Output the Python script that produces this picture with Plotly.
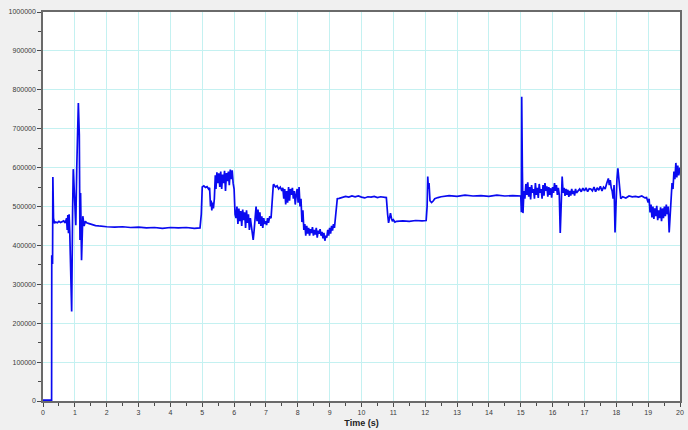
import plotly.graph_objects as go

# ---- data (time in s, signal value) ----
startup_t = [0.0, 0.27, 0.275, 0.29, 0.30, 0.31, 0.33, 0.36, 0.40, 0.45, 0.50, 0.55, 0.60, 0.65,
             0.70, 0.74, 0.76, 0.78, 0.80, 0.82, 0.84, 0.87, 0.90, 0.93, 0.95, 0.98, 1.03,
             1.06, 1.08, 1.11, 1.14, 1.16, 1.18, 1.21, 1.25, 1.29, 1.33, 1.37, 1.45, 1.55,
             1.65, 1.75, 1.85, 2.0]
startup_v = [2000, 2000, 375000, 361000, 352000, 576000, 470000, 457000, 460000, 458000, 462000,
             459000, 461000, 463000, 458000, 470000, 440000, 478000, 431000, 480000, 436000,
             300000, 230000, 491000, 596000, 543000, 452000, 600000, 684000, 766000, 684000,
             414000, 535000, 362000, 475000, 450000, 462000, 458000, 456000, 453000, 451000,
             450000, 449000, 448000]

idle_t = [2.25, 2.5, 2.75, 3.0, 3.25, 3.5, 3.75, 4.0, 4.25, 4.5, 4.75, 4.93]
idle_v = [447000, 448000, 446000, 447000, 445000, 446000, 444000, 446000, 445000, 446000,
          444000, 445000]

step1_t = [4.97, 5.0, 5.05, 5.1, 5.15, 5.2, 5.23, 5.26, 5.28, 5.30, 5.32, 5.35, 5.38, 5.41,
           5.43, 5.46, 5.49, 5.52, 5.55, 5.58, 5.61, 5.64, 5.67, 5.70, 5.73, 5.76, 5.79,
           5.82, 5.85, 5.88, 5.91, 5.94, 5.97, 6.00, 6.03, 6.06, 6.09, 6.12, 6.15, 6.18,
           6.21, 6.24, 6.27, 6.30, 6.33, 6.36, 6.39, 6.42, 6.45, 6.48, 6.51, 6.54, 6.57,
           6.60, 6.63, 6.66, 6.69, 6.72, 6.75, 6.78, 6.81, 6.84, 6.87, 6.90, 6.93, 6.96,
           6.99, 7.02, 7.05, 7.08, 7.12, 7.16, 7.20, 7.23]
step1_v = [480000, 550000, 553000, 549000, 551000, 545000, 548000, 500000, 515000, 490000,
           510000, 495000, 520000, 580000, 545000, 588000, 560000, 585000, 550000, 590000,
           545000, 582000, 560000, 592000, 540000, 586000, 565000, 590000, 555000, 595000,
           570000, 593000, 560000, 545000, 480000, 470000, 500000, 455000, 495000, 462000,
           488000, 450000, 492000, 465000, 485000, 445000, 490000, 458000, 480000, 440000,
           470000, 445000, 430000, 414000, 440000, 470000, 500000, 462000, 492000, 455000,
           485000, 450000, 475000, 445000, 470000, 455000, 462000, 452000, 470000, 458000,
           475000, 470000, 530000, 555000]

step2_t = [7.25, 7.3, 7.35, 7.4, 7.45, 7.5, 7.53, 7.56, 7.59, 7.62, 7.65, 7.68, 7.71, 7.74,
           7.77, 7.80, 7.83, 7.86, 7.89, 7.92, 7.95, 7.98, 8.01, 8.04, 8.07, 8.10, 8.13,
           8.16, 8.19, 8.22, 8.25, 8.28, 8.31, 8.34, 8.37, 8.40, 8.43, 8.46, 8.49, 8.52,
           8.55, 8.58, 8.61, 8.64, 8.67, 8.70, 8.73, 8.76, 8.79, 8.82, 8.85, 8.88, 8.91,
           8.94, 8.97, 9.00, 9.03, 9.06, 9.09, 9.12, 9.15, 9.18, 9.21, 9.24]
step2_v = [556000, 550000, 553000, 545000, 550000, 540000, 548000, 520000, 545000, 505000,
           540000, 510000, 550000, 515000, 545000, 530000, 548000, 520000, 540000, 505000,
           530000, 545000, 510000, 550000, 500000, 520000, 460000, 490000, 440000, 455000,
           425000, 450000, 430000, 445000, 425000, 442000, 432000, 447000, 425000, 440000,
           428000, 445000, 420000, 438000, 430000, 442000, 425000, 435000, 418000, 432000,
           412000, 425000, 420000, 440000, 425000, 445000, 430000, 450000, 438000, 455000,
           445000, 470000, 510000, 520000]

step3_t = [9.3, 9.4, 9.5, 9.6, 9.7, 9.8, 9.9, 10.0, 10.1, 10.2, 10.3, 10.4, 10.5, 10.6,
           10.7, 10.78, 10.82, 10.85, 10.88, 10.91, 10.94, 10.97, 11.0, 11.05, 11.1, 11.3,
           11.5, 11.7, 11.9, 12.03, 12.06, 12.08, 12.10, 12.12, 12.15, 12.2, 12.25, 12.3,
           12.4, 12.5, 12.75, 13.0, 13.25, 13.5, 13.75, 14.0, 14.25, 14.5, 14.75, 15.0]
step3_v = [521000, 523000, 526000, 524000, 527000, 525000, 527000, 524000, 522000, 525000,
           524000, 526000, 523000, 525000, 524000, 523000, 480000, 458000, 470000, 483000,
           470000, 462000, 466000, 460000, 462000, 463000, 462000, 464000, 463000, 464000,
           500000, 577000, 545000, 560000, 515000, 510000, 514000, 520000, 523000, 525000,
           528000, 526000, 529000, 527000, 528000, 526000, 529000, 527000, 528000, 527000]

step4_t = [15.02, 15.03, 15.05, 15.07, 15.1, 15.13, 15.16, 15.19, 15.22, 15.25, 15.28, 15.31,
           15.34, 15.37, 15.40, 15.43, 15.46, 15.49, 15.52, 15.55, 15.58, 15.61, 15.64,
           15.67, 15.70, 15.73, 15.76, 15.79, 15.82, 15.85, 15.88, 15.91, 15.94, 15.97,
           16.0, 16.03, 16.06, 16.09, 16.12, 16.15, 16.18, 16.21, 16.24, 16.27, 16.30,
           16.33, 16.36, 16.39, 16.42, 16.45, 16.48, 16.51, 16.54, 16.57, 16.60, 16.63,
           16.66, 16.69, 16.72, 16.75, 16.80, 16.85, 16.9, 16.95, 17.0, 17.05, 17.1, 17.15]
step4_v = [485000, 782000, 600000, 483000, 540000, 520000, 558000, 530000, 562000, 525000,
           550000, 518000, 555000, 535000, 545000, 520000, 560000, 530000, 548000, 522000,
           558000, 535000, 545000, 520000, 555000, 528000, 560000, 540000, 552000, 525000,
           550000, 530000, 547000, 523000, 550000, 535000, 560000, 540000, 555000, 530000,
           548000, 530000, 432000, 540000, 577000, 535000, 548000, 527000, 545000, 530000,
           543000, 525000, 540000, 528000, 545000, 532000, 540000, 528000, 545000, 535000,
           540000, 545000, 538000, 547000, 540000, 548000, 538000, 546000]

step5_t = [17.2, 17.25, 17.3, 17.35, 17.4, 17.45, 17.5, 17.55, 17.6, 17.65, 17.7, 17.75,
           17.78, 17.81, 17.84, 17.87, 17.9, 17.93, 17.96, 17.99, 18.02, 18.05, 18.08,
           18.11, 18.14, 18.2, 18.3, 18.4, 18.5, 18.6, 18.7, 18.8, 18.9, 18.95, 19.0, 19.03,
           19.06, 19.09, 19.12, 19.15, 19.18, 19.21, 19.24, 19.27, 19.30, 19.33, 19.36,
           19.39, 19.42, 19.45, 19.48, 19.51, 19.54, 19.57, 19.60, 19.63, 19.66, 19.69,
           19.72, 19.75, 19.78, 19.81, 19.84, 19.87, 19.9, 19.93, 19.96, 20.0]
step5_v = [545000, 540000, 550000, 538000, 548000, 542000, 552000, 540000, 550000, 545000,
           560000, 572000, 555000, 568000, 548000, 540000, 520000, 555000, 433000, 520000,
           570000, 598000, 560000, 545000, 520000, 525000, 522000, 527000, 525000, 526000,
           524000, 527000, 522000, 523000, 510000, 520000, 485000, 505000, 472000, 500000,
           468000, 495000, 475000, 502000, 465000, 490000, 470000, 498000, 462000, 495000,
           470000, 500000, 475000, 505000, 480000, 500000, 433000, 480000, 520000, 560000,
           545000, 590000, 570000, 612000, 575000, 605000, 580000, 600000]

x_ticks = list(range(0, 21))
y_ticks = list(range(0, 1000001, 100000))

time_s = startup_t + idle_t + step1_t + step2_t + step3_t + step4_t + step5_t
values = startup_v + idle_v + step1_v + step2_v + step3_v + step4_v + step5_v

fig = go.Figure()
fig.add_trace(go.Scatter(x=time_s, y=values, mode="lines",
                         line=dict(color="#0a0af0", width=1.7), showlegend=False,
                         cliponaxis=False))

axis_common = dict(
    showgrid=True, gridcolor="#c4f1f1", gridwidth=1,
    showline=True, linecolor="#6a6a6a", linewidth=1.5, mirror=True,
    ticks="outside", ticklen=4, tickcolor="#4a4a4a", tickwidth=1,
    zeroline=False, automargin=False,
    tickfont=dict(family="Liberation Sans, Arial, sans-serif", size=7, color="#3a3a3a"),
)

fig.update_xaxes(range=[0, 20], tickmode="array", tickvals=x_ticks,
                 ticktext=[str(v) for v in x_ticks],
                 minor=dict(dtick=0.5, ticks="outside", ticklen=3, tickcolor="#4a4a4a",
                            showgrid=False),
                 title=dict(text="<b>Time (s)</b>", standoff=5,
                            font=dict(family="Liberation Sans, Arial, sans-serif", size=9,
                                      color="#222222")),
                 **axis_common)
fig.update_yaxes(range=[0, 1000000], tickmode="array", tickvals=y_ticks,
                 ticktext=[str(v) for v in y_ticks],
                 minor=dict(dtick=50000, ticks="outside", ticklen=3, tickcolor="#4a4a4a",
                            showgrid=False),
                 **axis_common)

fig.update_layout(
    width=688, height=430,
    margin=dict(l=43, r=8, t=12, b=29),
    paper_bgcolor="#f0f0f0",
    plot_bgcolor="#ffffff",
)

fig.write_html(
    "out.html",
    config={"displayModeBar": False},
    post_script="document.body.style.margin='0';document.body.style.padding='0';"
                "document.body.style.overflow='hidden';"
                "document.body.style.background='#f0f0f0';",
)
